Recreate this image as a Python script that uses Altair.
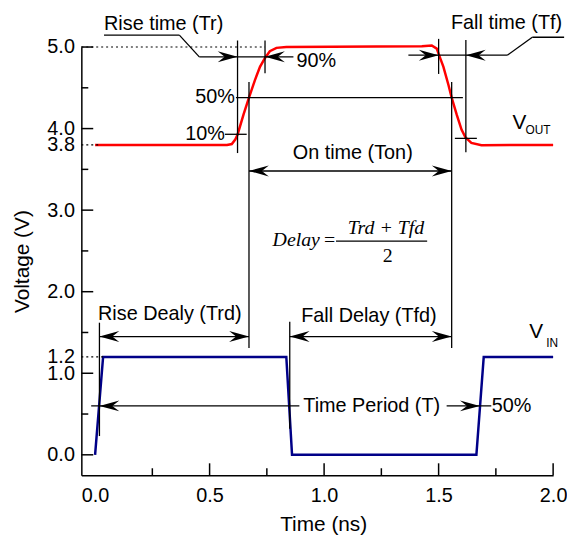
import altair as alt
import pandas as pd

# ---------------- data ----------------
vout_t = [0.0, 0.576, 0.597, 0.612, 0.622, 0.648, 0.672, 0.698, 0.720, 0.742, 0.763, 0.792, 0.835,
          1.427, 1.470, 1.492, 1.502, 1.521, 1.543, 1.557, 1.579, 1.600, 1.617, 1.643, 1.687, 2.0]
vout_v = [3.80, 3.80, 3.81, 3.865, 3.925, 4.17, 4.38, 4.595, 4.757, 4.866, 4.948, 4.99, 5.0,
          5.01, 5.02, 4.98, 4.90, 4.757, 4.535, 4.38, 4.17, 3.987, 3.893, 3.824, 3.796, 3.80]
vin_t = [0.0, 0.035, 0.835, 0.86, 1.665, 1.697, 2.0]
vin_v = [0.0, 1.2, 1.2, 0.0, 0.0, 1.2, 1.2]

x_label_values = [0.0, 0.5, 1.0, 1.5, 2.0]
y_label_values = [0.0, 1.0, 2.0, 3.0, 4.0, 5.0, 1.2, 3.8]
x_major_ticks = [0.5, 1.0, 1.5, 2.0]
x_minor_ticks = [0.25, 0.75, 1.25, 1.75]
y_major_ticks = [0.0, 1.0, 2.0, 3.0, 4.0, 5.0]
y_minor_ticks = [0.5, 1.5, 2.5, 3.5, 4.5]

# dotted reference levels (level, end time)
ref_level = [5.0, 3.8, 1.2]
ref_end = [0.742, 0.02, 0.035]

# annotation line segments (x1, y1, x2, y2)
seg_x1 = [0.622, 0.742, 0.672, 1.500, 1.619, 1.557, 0.019, 0.850,
          0.455, 0.455, 0.039, 1.368, 1.800, 1.909, 0.615, 0.567, 1.571,
          0.672, 0.019, 0.850, -0.017, 1.535, 1.052]
seg_y1 = [3.70, 4.68, 1.31, 4.67, 3.71, 1.31, 0.23, 0.32,
          4.88, 4.88, 5.146, 4.90, 4.90, 5.12, 4.38, 3.93, 3.88,
          3.48, 1.45, 1.45, 0.60, 0.60, 2.619]
seg_x2 = [0.622, 0.742, 0.672, 1.500, 1.619, 1.557, 0.019, 0.850,
          0.866, 0.368, 0.368, 1.800, 1.909, 2.048, 1.606, 0.662, 1.667,
          1.557, 0.672, 1.557, 0.892, 1.730, 1.450]
seg_y2 = [5.08, 5.08, 4.57, 5.10, 5.085, 4.57, 1.62, 1.63,
          4.88, 5.146, 5.146, 4.90, 5.12, 5.12, 4.38, 3.93, 3.88,
          3.48, 1.45, 1.45, 0.60, 0.60, 2.619]

# arrow heads (tip position and direction)
arr_t = [0.622, 0.742, 1.500, 1.619, 0.672, 1.557, 0.019, 0.672, 0.850, 1.557, 0.019, 1.680]
arr_v = [4.88, 4.88, 4.90, 4.90, 3.48, 3.48, 1.45, 1.45, 1.45, 1.45, 0.60, 0.60]
arr_dir = ["right", "left", "right", "left", "left", "right", "left", "right", "left", "right", "left", "right"]

# sans-serif texts
lt_text = ["Rise time (Tr)", "90%", "Fall time (Tf)", "Rise Dealy (Trd)", "Fall Delay (Tfd)",
           "Time Period (T)", "50%"]
lt_t = [0.039, 0.879, 1.554, 0.013, 0.900, 0.909, 1.732]
lt_v = [5.207, 4.757, 5.22, 1.65, 1.63, 0.523, 0.523]
rt_text = ["50%", "10%"]
rt_t = [0.610, 0.567]
rt_v = [4.31, 3.86]
ct_text = ["On time (Ton)"]
ct_t = [1.125]
ct_v = [3.625]
vlab_text = ["V", "V"]
vlab_t = [1.823, 1.896]
vlab_v = [4.0, 1.435]
sub_text = ["OUT", "IN"]
sub_t = [1.879, 1.970]
sub_v = [3.93, 1.326]

# formula texts
fi_text = ["Delay"]
fi_t = [0.775]
fi_v = [2.555]
fc_text = ["Trd + Tfd"]
fc_t = [1.27]
fc_v = [2.713]
fn_text = ["=", "2"]
fn_t = [1.0, 1.256]
fn_v = [2.555, 2.36]

# ---------------- chart ----------------
W, H = 476, 432
SANS = "Liberation Sans"
SERIF = "Liberation Serif"
xs = alt.Scale(domain=[-0.06, 2.0], nice=False, zero=False)
ys = alt.Scale(domain=[-0.25, 5.0], nice=False, zero=False)

x_axis = alt.Axis(values=x_label_values, format=".1f", ticks=False, grid=False,
                  labelFont=SANS, labelFontSize=20, labelColor="black", labelPadding=11,
                  labelFlush=False, labelOverlap=False,
                  domainColor="black", domainWidth=1.5,
                  title="Time (ns)", titleFont=SANS, titleFontSize=21, titleFontWeight="normal",
                  titleColor="black", titlePadding=8, titleX=244)
y_axis = alt.Axis(values=y_label_values, format=".1f", ticks=False, grid=False,
                  labelFont=SANS, labelFontSize=20, labelColor="black", labelPadding=7,
                  labelFlush=False, labelOverlap=False,
                  domainColor="black", domainWidth=1.5,
                  title="Voltage (V)", titleFont=SANS, titleFontSize=21, titleFontWeight="normal",
                  titleColor="black", titlePadding=15)


def X(field):
    return alt.X(field, scale=xs, axis=x_axis)


def Y(field):
    return alt.Y(field, scale=ys, axis=y_axis)


vout_df = pd.DataFrame({"t": vout_t, "v": vout_v})
vin_df = pd.DataFrame({"t": vin_t, "v": vin_v})

vout_line = alt.Chart(vout_df).mark_line(color="#ff0000", strokeWidth=2.5).encode(
    x=X("t:Q"), y=Y("v:Q"))
vin_line = alt.Chart(vin_df).mark_line(color="#000088", strokeWidth=2.5).encode(
    x=X("t:Q"), y=Y("v:Q"))

ref_df = pd.DataFrame({"v": ref_level, "t2": ref_end, "t1": [-0.06] * len(ref_level)})
dotted = alt.Chart(ref_df).mark_rule(color="black", strokeWidth=1.2, strokeDash=[2, 3]).encode(
    x=X("t1:Q"), x2="t2:Q", y=Y("v:Q"))

seg_df = pd.DataFrame({"x1": seg_x1, "y1": seg_y1, "x2": seg_x2, "y2": seg_y2})
segs = alt.Chart(seg_df).mark_rule(color="black", strokeWidth=1.3).encode(
    x=X("x1:Q"), x2="x2:Q", y=Y("y1:Q"), y2="y2:Q")

path_r = "M0,0L-2,-0.55L-1.3,0L-2,0.55Z"
path_l = "M0,0L2,-0.55L1.3,0L2,0.55Z"
arr_df = pd.DataFrame({"t": arr_t, "v": arr_v, "d": arr_dir})
arrows = alt.Chart(arr_df).mark_point(filled=True, color="black", size=400, opacity=1,
                                       strokeWidth=0).encode(
    x=X("t:Q"), y=Y("v:Q"),
    shape=alt.Shape("d:N", scale=alt.Scale(domain=["left", "right"], range=[path_l, path_r]),
                    legend=None))

xt_major = alt.Chart(pd.DataFrame({"t": x_major_ticks})).mark_rule(color="black", strokeWidth=1.5).encode(
    x=X("t:Q"), y=alt.value(H), y2=alt.value(H - 12))
xt_minor = alt.Chart(pd.DataFrame({"t": x_minor_ticks})).mark_rule(color="black", strokeWidth=1.5).encode(
    x=X("t:Q"), y=alt.value(H), y2=alt.value(H - 7))
yt_major = alt.Chart(pd.DataFrame({"v": y_major_ticks})).mark_rule(color="black", strokeWidth=1.5).encode(
    y=Y("v:Q"), x=alt.value(0), x2=alt.value(12))
yt_minor = alt.Chart(pd.DataFrame({"v": y_minor_ticks})).mark_rule(color="black", strokeWidth=1.5).encode(
    y=Y("v:Q"), x=alt.value(0), x2=alt.value(7))


def text_layer(texts, ts, vs, align, font, size, style="normal"):
    df = pd.DataFrame({"s": texts, "t": ts, "v": vs})
    return alt.Chart(df).mark_text(align=align, baseline="alphabetic", font=font, fontSize=size,
                                   fontStyle=style, color="black").encode(
        x=X("t:Q"), y=Y("v:Q"), text="s:N")


layers = [
    vout_line, vin_line, dotted, segs, arrows, xt_major, xt_minor, yt_major, yt_minor,
    text_layer(lt_text, lt_t, lt_v, "left", SANS, 20),
    text_layer(rt_text, rt_t, rt_v, "right", SANS, 20),
    text_layer(ct_text, ct_t, ct_v, "center", SANS, 20),
    text_layer(vlab_text, vlab_t, vlab_v, "left", SANS, 21),
    text_layer(sub_text, sub_t, sub_v, "left", SANS, 12),
    text_layer(fi_text, fi_t, fi_v, "left", SERIF, 20, "italic"),
    text_layer(fc_text, fc_t, fc_v, "center", SERIF, 20, "italic"),
    text_layer(fn_text, fn_t, fn_v, "left", SERIF, 20),
]

chart = alt.layer(*layers).properties(
    width=W, height=H,
    autosize=alt.AutoSizeParams(type="none"),
    padding={"left": 74, "top": 37, "right": 14, "bottom": 63},
).configure_view(stroke=None)

chart.save("out.html", embed_options={"renderer": "svg", "actions": False})
